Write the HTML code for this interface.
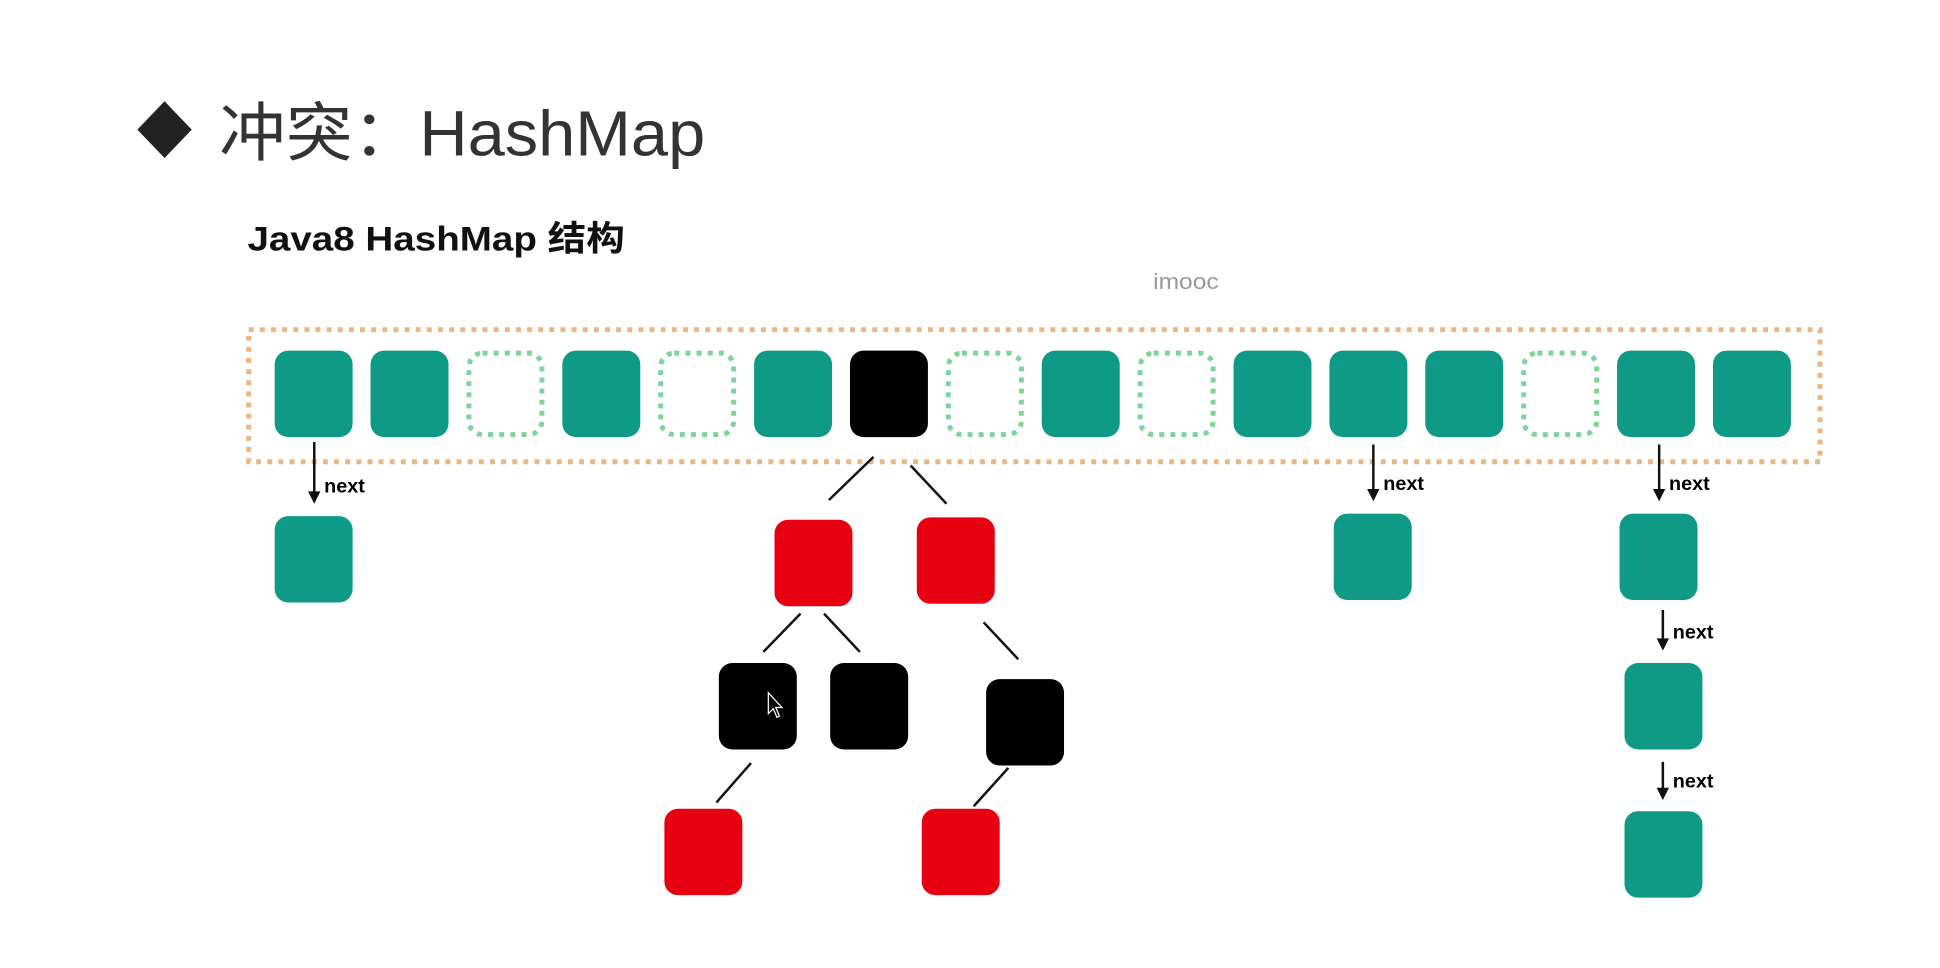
<!DOCTYPE html>
<html><head><meta charset="utf-8"><style>
html,body{margin:0;padding:0;background:#fff;}
svg{display:block;}
</style></head><body>
<svg id="s" width="1940" height="968" viewBox="0 0 1568 784" preserveAspectRatio="none" xmlns="http://www.w3.org/2000/svg">
<rect width="1568" height="784" fill="#fff"/>
<polygon points="133,82 155,105 133,128 111,105" fill="#222"/>
<text x="177" y="126" textLength="393" lengthAdjust="spacingAndGlyphs" font-family="Liberation Sans, Noto Sans CJK SC, sans-serif" font-size="52" fill="#333">冲突：HashMap</text>
<text x="200" y="203" textLength="305" lengthAdjust="spacingAndGlyphs" font-family="Liberation Sans, Noto Sans CJK SC, sans-serif" font-size="28" font-weight="bold" fill="#111">Java8 HashMap 结构</text>
<text x="932" y="234" textLength="53" lengthAdjust="spacingAndGlyphs" font-family="Liberation Sans, sans-serif" font-size="18" fill="#999">imooc</text>
<rect x="201" y="267" width="1270" height="107" fill="none" stroke="#eab784" stroke-width="4" stroke-dasharray="4 5"/>
<g id="g"></g>
</svg>
<script>
const bucketTypes = ['f','f','e','f','e','f','b','e','f','e','f','f','f','e','f','f'];
const bucketX = 222, bucketStep = 77.5;
const g = document.getElementById('g');
const NS = 'http://www.w3.org/2000/svg';
function box(x,y,type,name){
  const r = document.createElementNS(NS,'rect');
  r.setAttribute('x',x); r.setAttribute('y',y);
  r.setAttribute('width',63); r.setAttribute('height',70);
  r.setAttribute('rx',11);
  if(type==='e'){r.setAttribute('fill','none');r.setAttribute('stroke','#7fd49b');r.setAttribute('stroke-width',4);r.setAttribute('stroke-dasharray','4 5');
    r.setAttribute('x',x+2);r.setAttribute('y',y+2);r.setAttribute('width',59);r.setAttribute('height',66);}
  else r.setAttribute('fill',type==='f'?'#0e9a85':type==='r'?'#e60012':'#000');
  
  
  g.appendChild(r);
}
function line(x1,y1,x2,y2,name){
  const l=document.createElementNS(NS,'line');
  l.setAttribute('x1',x1);l.setAttribute('y1',y1);l.setAttribute('x2',x2);l.setAttribute('y2',y2);
  l.setAttribute('stroke','#111');l.setAttribute('stroke-width',2);
  
  
  g.appendChild(l);
}
function arrow(x,y1,y2,ly){
  line(x,y1,x,y2-8,'next-arrow');
  const p=document.createElementNS(NS,'polygon');
  p.setAttribute('points',`${x-5},${y2-10} ${x+5},${y2-10} ${x},${y2}`);
  p.setAttribute('fill','#111');
  
  
  g.appendChild(p);
  const t=document.createElementNS(NS,'text');
  t.setAttribute('x',x+8);t.setAttribute('y',ly);
  t.setAttribute('font-family','Liberation Sans, sans-serif');t.setAttribute('font-size',16);t.setAttribute('font-weight','bold');
  t.textContent='next';
  
  
  g.appendChild(t);
}
bucketTypes.forEach((t,i)=>box(bucketX+i*bucketStep,284,t,'bucket-'+i));
// chains
arrow(254,358,408,399); box(222,418,'f','chain-node');
arrow(1110,360,406,397); box(1078,416,'f','chain-node');
arrow(1341,360,406,397); box(1309,416,'f','chain-node');
arrow(1344,494,527,517); box(1313,537,'f','chain-node');
arrow(1344,617,648,638); box(1313,657,'f','chain-node');
// tree
line(706,370,670,405,'tree-edge'); line(736,377,765,408,'tree-edge');
box(626,421,'r','tree-node-red'); box(741,419,'r','tree-node-red');
line(647,497,617,528,'tree-edge'); line(666,497,695,528,'tree-edge'); line(795,504,823,534,'tree-edge');
box(581,537,'b','tree-node-black'); box(671,537,'b','tree-node-black'); box(797,550,'b','tree-node-black');
line(607,618,579,650,'tree-edge'); line(815,622,787,653,'tree-edge');
box(537,655,'r','tree-node-red'); box(745,655,'r','tree-node-red');
// cursor
const c=document.createElementNS(NS,'polygon');
c.setAttribute('points','621,561 621,578 625,574 628,581 630,580 627,573 632,573');
c.setAttribute('fill','#000');c.setAttribute('stroke','#fff');c.setAttribute('stroke-width',1);


g.appendChild(c);
</script>
</body></html>
